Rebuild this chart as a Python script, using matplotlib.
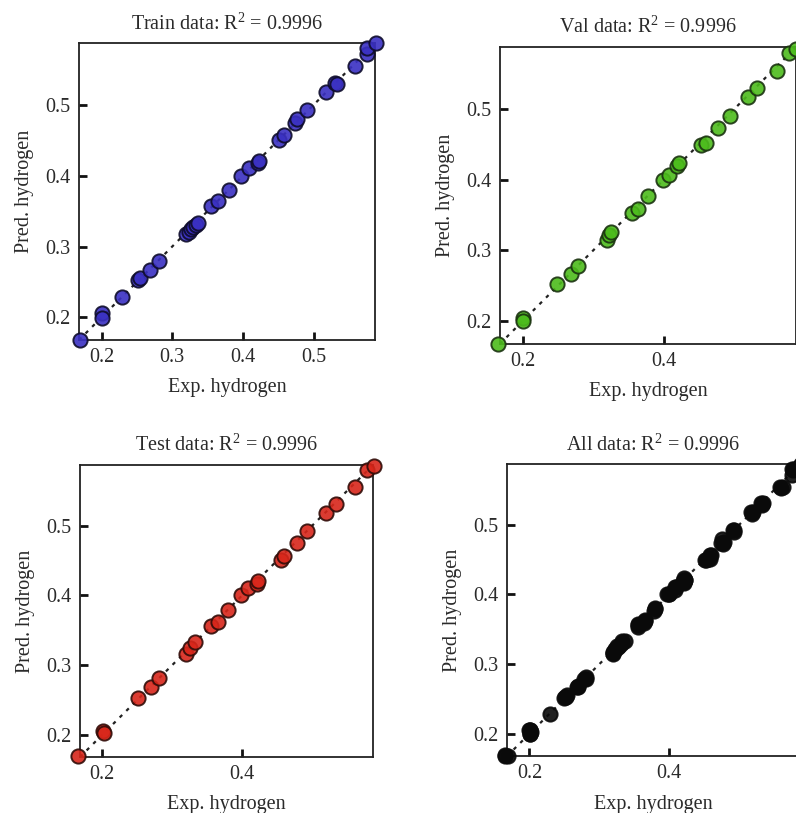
import numpy as np
import matplotlib
matplotlib.use("Agg")
import matplotlib.pyplot as plt

plt.rcParams['font.family'] = ['Liberation Serif', 'DejaVu Serif']
plt.rcParams['mathtext.fontset'] = 'custom'
plt.rcParams['mathtext.rm'] = 'Liberation Serif'

# values (exp. hydrogen vs pred. hydrogen)
train_x = [0.170, 0.200, 0.201, 0.229, 0.252, 0.254, 0.269, 0.281,
           0.320, 0.323, 0.326, 0.329, 0.333, 0.336, 0.355, 0.365,
           0.380, 0.397, 0.408, 0.421, 0.423, 0.451, 0.458, 0.474,
           0.476, 0.491, 0.517, 0.531, 0.533, 0.559, 0.575, 0.576, 0.588]
train_y = [0.168, 0.206, 0.199, 0.229, 0.253, 0.255, 0.267, 0.279,
           0.317, 0.321, 0.325, 0.328, 0.331, 0.333, 0.357, 0.364,
           0.380, 0.400, 0.411, 0.418, 0.421, 0.450, 0.457, 0.474,
           0.480, 0.493, 0.518, 0.531, 0.529, 0.555, 0.572, 0.580, 0.588]

val_x = [0.165, 0.201, 0.201, 0.249, 0.268, 0.278, 0.319, 0.322,
         0.325, 0.355, 0.364, 0.378, 0.399, 0.408, 0.419, 0.421,
         0.452, 0.459, 0.477, 0.493, 0.519, 0.532, 0.560, 0.577, 0.587]
val_y = [0.168, 0.205, 0.200, 0.252, 0.267, 0.278, 0.314, 0.322,
         0.326, 0.353, 0.359, 0.377, 0.400, 0.407, 0.419, 0.423,
         0.449, 0.451, 0.473, 0.490, 0.516, 0.530, 0.553, 0.579, 0.585]

test_x = [0.165, 0.201, 0.202, 0.251, 0.269, 0.281, 0.320, 0.326,
          0.333, 0.356, 0.365, 0.380, 0.399, 0.409, 0.421, 0.423,
          0.455, 0.460, 0.478, 0.493, 0.520, 0.534, 0.562, 0.578, 0.588]
test_y = [0.169, 0.206, 0.202, 0.253, 0.268, 0.282, 0.316, 0.325,
          0.333, 0.356, 0.362, 0.379, 0.401, 0.411, 0.416, 0.421,
          0.451, 0.456, 0.475, 0.493, 0.518, 0.531, 0.555, 0.580, 0.586]

all_x = train_x + val_x + test_x
all_y = train_y + val_y + test_y

r2 = 0.9996
lim = (0.168, 0.587)

panels = [
    ("Train", train_x, train_y, "#3a30c2", "#0e0c2a", [0.2, 0.3, 0.4, 0.5],
     [0.0992, 0.5818, 0.372, 0.365]),
    ("Val", val_x, val_y, "#4cbc1c", "#1a3210", [0.2, 0.4],
     [0.628, 0.577, 0.372, 0.365]),
    ("Test", test_x, test_y, "#d8261a", "#300c08", [0.2, 0.4],
     [0.1005, 0.0689, 0.368, 0.359]),
    ("All", all_x, all_y, "#0a0a0a", "#0a0a0a", [0.2, 0.4],
     [0.637, 0.070, 0.368, 0.359]),
]

fig = plt.figure(figsize=(7.96, 8.13), dpi=100)

for name, xs, ys, fc, ec, xticks, rect in panels:
    ax = fig.add_axes(rect)
    ax.plot(lim, lim, color="#222222", lw=1.6, ls=(0, (1.6, 2.6)), zorder=1)
    ax.scatter(xs, ys, s=105, c=fc, edgecolors=ec, linewidths=1.4,
               alpha=0.9, zorder=3, clip_on=False)
    ax.set_xlim(lim)
    ax.set_ylim(lim)
    ax.set_xticks(xticks)
    ax.set_yticks([0.2, 0.3, 0.4, 0.5])
    ax.set_xticklabels([f"{t:.1f}" for t in xticks])
    ax.set_yticklabels(["0.2", "0.3", "0.4", "0.5"])
    ax.tick_params(direction="in", length=6, width=2, labelsize=14.5,
                   colors="#111111", labelcolor="#2a2a2a", pad=6)
    for sp in ax.spines.values():
        sp.set_linewidth(1.3)
        sp.set_color("#222222")
    ax.set_xlabel("Exp. hydrogen", fontsize=14.5, color="#2a2a2a", labelpad=8)
    ax.set_ylabel("Pred. hydrogen", fontsize=14.5, color="#2a2a2a", labelpad=8)
    ax.set_title(f"{name} data: R$^2$ = {r2}", fontsize=14.5,
                 color="#2a2a2a", pad=10)

fig.savefig("out.png", dpi=100)
